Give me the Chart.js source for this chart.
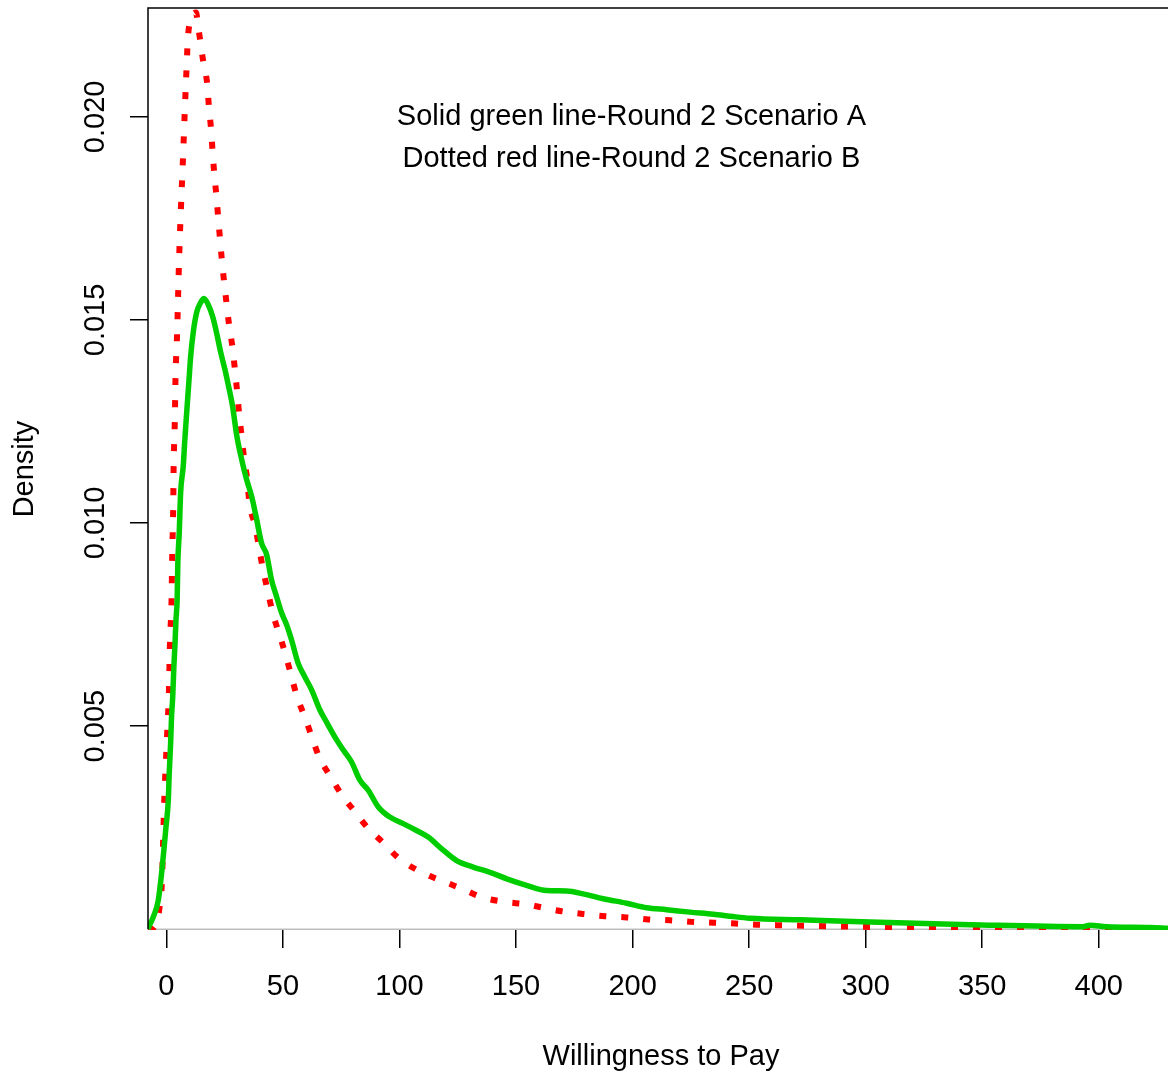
<!DOCTYPE html>
<html>
<head>
<meta charset="utf-8">
<script src="https://cdn.jsdelivr.net/npm/chart.js@4/dist/chart.umd.min.js"></script>
<style>
  html, body { margin: 0; padding: 0; background: #fff; }
  #grafica { display: block; }
</style>
</head>
<body>
<canvas id="grafica" width="1168" height="1074"></canvas>
<script>
// Round 2 Scenario A (solid green)
const xA = [-7.9, -7.8, -5.7, -3.5, -2.1, -1.1, -0.2, 0.8, 1.2, 1.8, 2.2, 2.7, 3.2, 3.7, 4.1, 4.6, 4.9, 5.5, 6.1, 7.2,
  7.9, 8.7, 9.7, 10.4, 11.5, 13.0, 14.7, 16.1, 17.9, 19.8, 21.5, 23.3, 25.1, 26.5, 28.4, 30.1, 32.3, 34.4, 36.6, 38.5,
  40.8, 43.0, 45.1, 47.3, 49.4, 51.6, 53.7, 56.5, 59.4, 62.3, 65.9, 68.7, 72.3, 75.9, 79.5, 83.0, 86.6, 90.9, 95.9, 101.6,
  107.3, 112.3, 118.1, 124.5, 131.6, 138.8, 146.0, 154.5, 163.1, 171.7, 178.8, 187.4, 197.4, 206.0, 214.6, 224.6, 234.6,
  243.2, 250.3, 271.8, 294.6, 317.6, 344.7, 393.3, 396.2, 403.3, 421.9, 429.7];
const yA = [0, 0.00002, 0.00029, 0.00071, 0.00136, 0.00194, 0.00251, 0.00317, 0.00383, 0.00457, 0.00523, 0.00572, 0.00646,
  0.00704, 0.00761, 0.00811, 0.00902, 0.00976, 0.01075, 0.01139, 0.01205, 0.01272, 0.01353, 0.0141, 0.01469, 0.01519,
  0.01543, 0.01553, 0.01538, 0.01509, 0.01469, 0.0142, 0.01378, 0.01341, 0.01287, 0.01218, 0.01156, 0.01107, 0.01065,
  0.01015, 0.00951, 0.00922, 0.0086, 0.00818, 0.00779, 0.00749, 0.00712, 0.00655, 0.00621, 0.00589, 0.00539, 0.0051,
  0.00473, 0.00441, 0.00411, 0.00367, 0.00342, 0.00301, 0.00276, 0.0026, 0.00243, 0.00227, 0.00198, 0.00169, 0.00153,
  0.0014, 0.00124, 0.00108, 0.00095, 0.00094, 0.00087, 0.00075, 0.00064, 0.00053, 0.00048, 0.00042, 0.00037, 0.00031,
  0.00027, 0.00023, 0.00019, 0.00015, 0.00011, 0.00006, 0.0001, 0.00006, 0.00004, 0.00002];

// Round 2 Scenario B (dotted red)
const xB = [-7.9, -7.1, -4.1, -2.8, -1.9, -1.4, -0.9, 0.3, 1.1, 1.5, 2.2, 2.5, 2.9, 3.1, 3.6, 3.9, 4.6, 5.1, 5.5, 6.2,
  7.0, 7.9, 8.3, 8.7, 9.1, 10.1, 11.4, 12.7, 13.5, 14.4, 15.8, 17.5, 18.2, 19.1, 19.8, 20.5, 21.4, 22.2, 23.0, 23.8,
  24.8, 25.8, 26.9, 28.4, 29.4, 30.4, 31.2, 32.3, 33.4, 34.7, 35.6, 38.0, 39.8, 41.5, 43.7, 45.6, 48.7, 51.3, 53.7, 56.1,
  59.4, 62.6, 65.6, 70.4, 75.2, 80.9, 86.6, 93.0, 99.0, 106.2, 113.8, 120.9, 128.1, 135.7, 145.2, 154.8, 163.1, 171.0,
  179.5, 188.1, 197.4, 206.7, 216.0, 225.3, 234.6, 243.9, 253.2, 261.9, 270.5, 297.5, 340.4, 380, 429.7];
const yB = [0, 0, 0.0002, 0.0006, 0.0012, 0.0022, 0.0032, 0.00479, 0.0059, 0.007, 0.0081, 0.00922, 0.01032, 0.0114,
  0.01249, 0.01357, 0.01468, 0.01578, 0.0166, 0.01771, 0.01882, 0.02017, 0.02074, 0.02128, 0.02183, 0.02237, 0.02252,
  0.02257, 0.02227, 0.02192, 0.02136, 0.02081, 0.02027, 0.01973, 0.01916, 0.01862, 0.01808, 0.01753, 0.01699, 0.01647,
  0.01591, 0.01541, 0.01487, 0.0143, 0.01377, 0.0132, 0.01268, 0.01212, 0.01155, 0.01106, 0.01049, 0.00995, 0.00938,
  0.00884, 0.00827, 0.00778, 0.00722, 0.00672, 0.00621, 0.00571, 0.00522, 0.0047, 0.00423, 0.00376, 0.00331, 0.00289,
  0.00248, 0.00213, 0.00178, 0.0015, 0.00129, 0.00113, 0.00096, 0.00078, 0.00067, 0.00061, 0.00051, 0.00043, 0.00037,
  0.00032, 0.00029, 0.00024, 0.00022, 0.00018, 0.00016, 0.00014, 0.00011, 0.0001, 0.00009, 0.00006, 0.00004, 0.00003,
  0.00002];

const xTicks = [0, 50, 100, 150, 200, 250, 300, 350, 400];
const yTicks = [0.005, 0.010, 0.015, 0.020];
const notas = ["Solid green line-Round 2 Scenario A", "Dotted red line-Round 2 Scenario B"];

const FUENTE = '"Liberation Sans", Arial, sans-serif';

function puntos(xs, ys) {
  return xs.map((x, i) => ({ x: x, y: ys[i] }));
}

// marco, línea cero, etiquetas del eje y y textos
const marco = {
  id: "marco",
  beforeDatasetsDraw(chart) {
    const { ctx, chartArea: a, scales } = chart;
    const y0 = scales.y.getPixelForValue(0);
    ctx.save();
    ctx.strokeStyle = "#bebebe";
    ctx.lineWidth = 1.5;
    ctx.beginPath();
    ctx.moveTo(a.left, y0);
    ctx.lineTo(a.right, y0);
    ctx.stroke();
    ctx.restore();
  },
  afterDraw(chart) {
    const { ctx, chartArea: a, scales } = chart;
    ctx.save();
    ctx.strokeStyle = "#000";
    ctx.lineWidth = 1.5;
    ctx.beginPath();
    ctx.moveTo(a.left, scales.y.getPixelForValue(0));
    ctx.lineTo(a.left, a.top);
    ctx.lineTo(a.right, a.top);
    ctx.stroke();

    ctx.fillStyle = "#000";
    ctx.font = "29px " + FUENTE;
    ctx.textAlign = "center";
    ctx.textBaseline = "middle";

    // etiquetas eje y (rotadas como en R)
    yTicks.forEach(v => {
      const py = scales.y.getPixelForValue(v);
      ctx.save();
      ctx.translate(96, py);
      ctx.rotate(-Math.PI / 2);
      ctx.fillText(v.toFixed(3), 0, 0);
      ctx.restore();
    });

    // leyenda en texto
    const cx = scales.x.getPixelForValue(199.5);
    ctx.fillText(notas[0], cx, scales.y.getPixelForValue(0.0200));
    ctx.fillText(notas[1], cx, scales.y.getPixelForValue(0.01897));

    // títulos de ejes
    ctx.fillText("Willingness to Pay", 661, 1057);
    ctx.save();
    ctx.translate(25, 469);
    ctx.rotate(-Math.PI / 2);
    ctx.fillText("Density", 0, 0);
    ctx.restore();
    ctx.restore();
  }
};

const ctx = document.getElementById("grafica").getContext("2d");

let grafica = new Chart(ctx, {
  type: "line",
  data: {
    datasets: [
      {
        label: "Round 2 Scenario A",
        data: puntos(xA, yA),
        borderColor: "#00cd00",
        borderWidth: 5.5,
        pointRadius: 0,
        cubicInterpolationMode: "monotone",
        fill: false
      },
      {
        label: "Round 2 Scenario B",
        data: puntos(xB, yB),
        borderColor: "#ff0000",
        borderWidth: 6,
        borderDash: [7, 15],
        pointRadius: 0,
        cubicInterpolationMode: "monotone",
        fill: false
      }
    ]
  },
  options: {
    responsive: false,
    animation: false,
    devicePixelRatio: 1,
    layout: { padding: { top: 8, left: 0, right: 0, bottom: 0 } },
    plugins: {
      legend: { display: false },
      tooltip: { enabled: false }
    },
    scales: {
      x: {
        type: "linear",
        min: -7.9,
        max: 429.7,
        afterFit: s => { s.height = 144; },
        afterBuildTicks: s => { s.ticks = xTicks.map(v => ({ value: v })); },
        border: { display: false },
        grid: {
          drawOnChartArea: false,
          drawTicks: true,
          tickLength: 18,
          color: "#000",
          lineWidth: 1.5
        },
        ticks: {
          includeBounds: false,
          maxRotation: 0,
          padding: 22,
          color: "#000",
          font: { family: FUENTE, size: 29 }
        }
      },
      y: {
        type: "linear",
        min: -0.00002,
        max: 0.02268,
        afterFit: s => { s.width = 148; },
        afterBuildTicks: s => { s.ticks = yTicks.map(v => ({ value: v })); },
        border: { display: false },
        grid: {
          drawOnChartArea: false,
          drawTicks: true,
          tickLength: 18,
          color: "#000",
          lineWidth: 1.5
        },
        ticks: { display: false }
      }
    }
  },
  plugins: [marco]
});
</script>
</body>
</html>
